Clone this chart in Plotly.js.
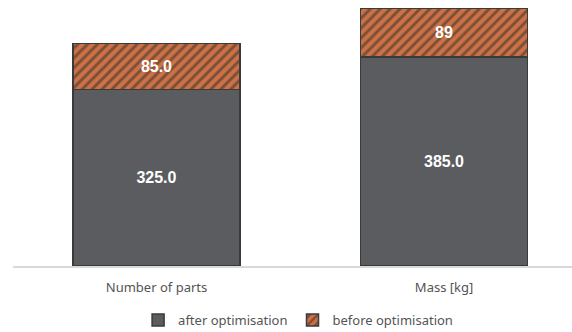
<!DOCTYPE html>
<html><head><meta charset="utf-8">
<script src="https://cdn.plot.ly/plotly-3.0.1.min.js"></script>
<style>html,body{margin:0;padding:0;background:#fff}#c{width:572px;height:332px}</style>
</head><body><div id="c"></div>
<script>
const categories = ["Number of parts", "Mass [kg]"];
const afterValues = [325, 385];
const beforeValues = [85, 89];
const afterLabels = ["325.0", "385.0"];
const beforeLabels = ["85.0", "89"];

const traces = [
  {
    type: "bar", name: "after optimisation", x: categories, y: afterValues,
    text: afterLabels, textposition: "inside", insidetextanchor: "middle",
    textfont: {family: "Liberation Sans, Arial, sans-serif", size: 16, color: "#ffffff", weight: "bold"},
    marker: {color: "#5b5c5f", line: {color: "#3a3a3a", width: 1.5}},
    width: 0.58, hoverinfo: "none"
  },
  {
    type: "bar", name: "before optimisation", x: categories, y: beforeValues,
    text: beforeLabels, textposition: "inside", insidetextanchor: "middle",
    textfont: {family: "Liberation Sans, Arial, sans-serif", size: 16, color: "#ffffff", weight: "bold"},
    marker: {color: "#cc7246", line: {color: "#3a3a3a", width: 1.5},
      pattern: {shape: "/", fgcolor: "#2a2a2a", bgcolor: "#cc7246", size: 7, solidity: 0.42, fillmode: "overlay"}},
    width: 0.58, hoverinfo: "none"
  }
];

const layout = {
  width: 572, height: 332,
  margin: {l: 13, r: 0, t: 0, b: 66, autoexpand: false},
  barmode: "stack",
  paper_bgcolor: "#ffffff", plot_bgcolor: "#ffffff",
  showlegend: true,
  legend: {orientation: "h", x: 0.51, xanchor: "center", yref: "container", y: 0.036, yanchor: "middle",
    font: {family: "Noto Sans, sans-serif", size: 13, color: "#555555"}, traceorder: "normal",
    itemwidth: 30},
  xaxis: {range: [-0.499, 1.445], showline: true, linecolor: "#d9d9d9", linewidth: 1.5, automargin: false,
    ticks: "", showgrid: false, zeroline: false, ticklabelstandoff: 9,
    tickfont: {family: "Noto Sans, sans-serif", size: 13, color: "#555555"}},
  yaxis: {range: [0, 490], showticklabels: false, showgrid: false, zeroline: false, showline: false, automargin: false},
  uniformtext: {mode: "show", minsize: 10}
};

Plotly.newPlot("c", traces, layout, {displayModeBar: false, staticPlot: true});
</script></body></html>
